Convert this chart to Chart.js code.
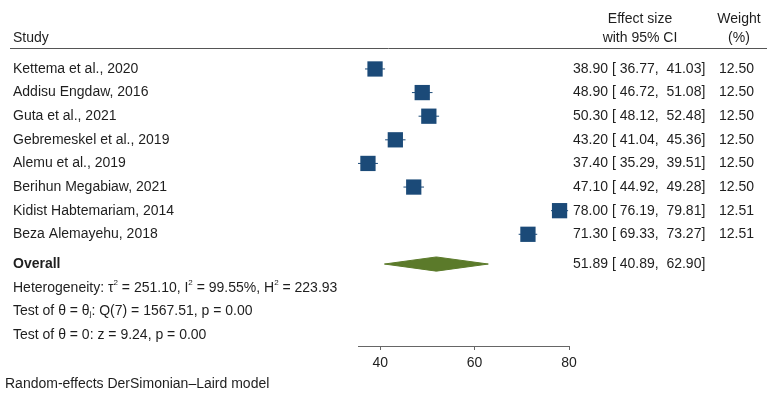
<!DOCTYPE html>
<html>
<head>
<meta charset="UTF-8">
<title>Forest plot</title>
<script src="https://cdn.jsdelivr.net/npm/chart.js@4.4.1/dist/chart.umd.min.js"></script>
<style>
  body { margin: 0; background: #fff; }
  #wrap { width: 777px; height: 397px; position: relative; }
</style>
</head>
<body>
<div id="wrap"><canvas id="forest"></canvas></div>
<script>
// study data
var studies = ['Kettema et al., 2020', 'Addisu Engdaw, 2016', 'Guta et al., 2021', 'Gebremeskel et al., 2019',
               'Alemu et al., 2019', 'Berihun Megabiaw, 2021', 'Kidist Habtemariam, 2014', 'Beza Alemayehu, 2018'];
var effect = [38.90, 48.90, 50.30, 43.20, 37.40, 47.10, 78.00, 71.30];
var lower  = [36.77, 46.72, 48.12, 41.04, 35.29, 44.92, 76.19, 69.33];
var upper  = [41.03, 51.08, 52.48, 45.36, 39.51, 49.28, 79.81, 73.27];
var weight = [12.50, 12.50, 12.50, 12.50, 12.50, 12.50, 12.51, 12.51];
var overall = [51.89, 40.89, 62.90]; // estimate, lower, upper
var xTicks = [40, 60, 80];

var overallRow = 8.26;   // row position of the pooled estimate (gap after studies)
var blue = '#1b4a78';
var green = '#5b7a2a';
var font = '"Liberation Sans", Arial, sans-serif';
var fs = 14;

// datasets built from the arrays above
var datasets = [];
datasets.push({
    label: 'Studies',
    data: effect.map(function (v, i) { return { x: v, y: i }; }),
    pointStyle: 'rect',
    pointRadius: 10.8,
    backgroundColor: blue,
    borderWidth: 0,
    clip: false
});
for (var i = 0; i < studies.length; i++) {
    datasets.push({
        label: 'CI ' + i,
        data: [{ x: lower[i], y: i }, { x: upper[i], y: i }],
        showLine: true,
        borderColor: blue,
        borderWidth: 1,
        pointRadius: 0,
        clip: false
    });
}
var dh = 0.3; // half height of the diamond, in rows
datasets.push({
    label: 'Overall',
    data: [{ x: overall[1], y: overallRow }, { x: overall[0], y: overallRow - dh },
           { x: overall[2], y: overallRow }, { x: overall[0], y: overallRow + dh },
           { x: overall[1], y: overallRow }],
    showLine: true,
    fill: 'shape',
    tension: 0,
    backgroundColor: green,
    borderColor: green,
    borderWidth: 1,
    pointRadius: 0,
    clip: false
});

// draws the table text around the plot
var tablePlugin = {
    id: 'tableText',
    afterDraw: function (chart) {
        var ctx = chart.ctx;
        var y = chart.scales.y;
        ctx.save();
        ctx.fillStyle = '#1e1e1e';
        ctx.textBaseline = 'middle';
        ctx.font = fs + 'px ' + font;

        // header
        ctx.textAlign = 'left';
        ctx.fillText('Study', 13, 38);
        ctx.textAlign = 'center';
        ctx.fillText('Effect size', 640, 19);
        ctx.fillText('with 95% CI', 640, 38);
        ctx.fillText('Weight', 739, 19);
        ctx.fillText('(%)', 739, 38);
        ctx.strokeStyle = '#555';
        ctx.lineWidth = 1;
        ctx.beginPath();
        ctx.moveTo(10, 48.5);
        ctx.lineTo(767, 48.5);
        ctx.stroke();

        // study rows
        for (var i = 0; i < studies.length; i++) {
            var py = y.getPixelForValue(i);
            ctx.textAlign = 'left';
            ctx.fillText(studies[i], 13, py);
            ctx.fillText(effect[i].toFixed(2) + ' [ ' + lower[i].toFixed(2) + ',  ' + upper[i].toFixed(2) + ']', 573, py);
            ctx.textAlign = 'right';
            ctx.fillText(weight[i].toFixed(2), 754, py);
        }

        // overall row
        var oy = y.getPixelForValue(overallRow);
        ctx.textAlign = 'left';
        ctx.fillText(overall[0].toFixed(2) + ' [ ' + overall[1].toFixed(2) + ',  ' + overall[2].toFixed(2) + ']', 573, oy);
        ctx.font = 'bold ' + fs + 'px ' + font;
        ctx.fillText('Overall', 13, oy);

        // statistics lines with small super/subscripts
        function parts(list, x, py) {
            list.forEach(function (p) {
                ctx.font = (p.s || fs) + 'px ' + font;
                ctx.fillText(p.t, x, py + (p.d || 0));
                x += ctx.measureText(p.t).width;
            });
        }
        parts([{ t: 'Heterogeneity: τ' }, { t: '2', s: 8, d: -5 }, { t: ' = 251.10, I' }, { t: '2', s: 8, d: -5 },
               { t: ' = 99.55%, H' }, { t: '2', s: 8, d: -5 }, { t: ' = 223.93' }], 13, oy + 24);
        parts([{ t: 'Test of θ = θ' }, { t: 'j', s: 8, d: 3 }, { t: ': Q(7) = 1567.51, p = 0.00' }], 13, oy + 47);
        parts([{ t: 'Test of θ = 0: z = 9.24, p = 0.00' }], 13, oy + 71);
        parts([{ t: 'Random-effects DerSimonian–Laird model' }], 5, 384);
        ctx.restore();
    }
};

new Chart(document.getElementById('forest'), {
    type: 'scatter',
    data: { datasets: datasets },
    options: {
        responsive: true,
        maintainAspectRatio: false,
        animation: false,
        events: [],
        layout: { autoPadding: false, padding: { left: 358, right: 208, top: 0, bottom: 26 } },
        plugins: { legend: { display: false }, tooltip: { enabled: false } },
        scales: {
            x: {
                type: 'linear',
                min: Math.min.apply(null, lower),
                max: xTicks[xTicks.length - 1],
                afterBuildTicks: function (scale) {
                    scale.ticks = xTicks.map(function (v) { return { value: v }; });
                },
                afterFit: function (scale) { scale.height = 25; },
                grid: { drawOnChartArea: false, drawTicks: true, tickLength: 4, color: '#666' },
                border: { display: true, color: '#666', width: 1 },
                ticks: { color: '#1e1e1e', padding: 5, font: { family: font, size: fs } }
            },
            y: {
                type: 'linear',
                display: false,
                reverse: true,
                min: -2.92,
                max: 11.73
            }
        }
    },
    plugins: [tablePlugin]
});
</script>
</body>
</html>
